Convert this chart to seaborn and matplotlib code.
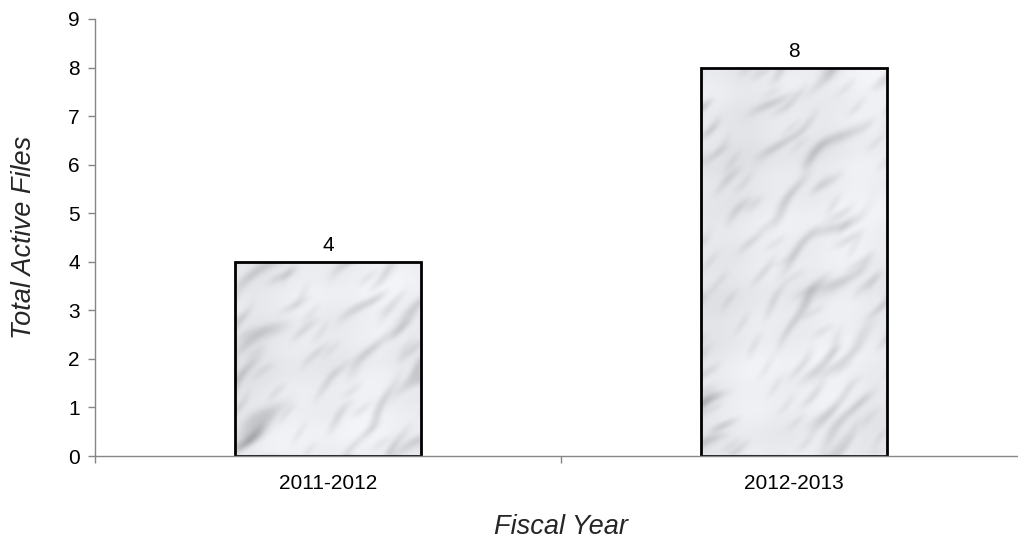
import numpy as np
import pandas as pd
import matplotlib
matplotlib.use("Agg")
import matplotlib.pyplot as plt
import seaborn as sns

# Data
fiscal_years = ["2011-2012", "2012-2013"]
active_files = [4, 8]
y_ticks = list(range(0, 10))

sns.set_style("white")
plt.rcParams["font.family"] = ["Liberation Sans", "DejaVu Sans"]

AXIS_GREY = "#868686"


def marble_texture(h, w, shift):
    """Light marble-like fill: soft diagonal grey streaks over a pale base."""
    yy, xx = np.mgrid[0:h, 0:w].astype(float)
    xx = xx + shift
    yy = yy + shift * 0.6
    u = (xx + yy) / np.sqrt(2)   # across the streaks
    v = (xx - yy) / np.sqrt(2)   # along the streaks
    clouds = (0.5 * np.sin(u * 0.020 + v * 0.011 + 0.3)
              + 0.4 * np.sin(u * 0.035 - v * 0.027 + 1.9)
              + 0.3 * np.sin(u * 0.061 + v * 0.047 + 2.6)
              + 0.2 * np.sin(u * 0.11 - v * 0.083 + 0.9))
    streaks = np.zeros_like(u)
    layers = [(0.16, 0.021, 1.0, 0.4), (0.23, 0.033, 0.8, 1.7),
              (0.11, 0.015, 0.9, 2.8), (0.31, 0.047, 0.6, 4.1)]
    for ka, kv, amp, ph in layers:
        s = np.sin(u * ka + 1.6 * np.sin(v * kv + ph) + 1.3 * clouds)
        env = np.clip(np.sin(v * kv * 1.9 + u * 0.027 + 2 * ph), 0, 1) ** 1.5
        streaks += amp * np.clip(s, 0, 1) ** 6 * env
    val = 0.92 - 0.15 * streaks - 0.045 * (clouds / 1.4)
    # soften
    k = 3
    acc = np.zeros_like(val)
    n = 0
    for dy in range(-k, k + 1):
        for dx in range(-k, k + 1):
            acc += np.roll(np.roll(val, dy, axis=0), dx, axis=1)
            n += 1
    val = np.clip(acc / n, 0, 1)
    rgb = np.stack([val * 0.995, val, np.minimum(val * 1.015, 1.0)], axis=-1)
    return rgb


fig = plt.figure(figsize=(10.18, 5.42), dpi=100)
ax = fig.add_axes([95 / 1018, (542 - 456) / 542, 932 / 1018, 437 / 542])

df = pd.DataFrame({"Fiscal Year": fiscal_years, "Total Active Files": active_files})
sns.barplot(data=df, x="Fiscal Year", y="Total Active Files", order=fiscal_years,
            width=0.4, color="white", edgecolor="black", linewidth=2, ax=ax)

ax.set_xlim(-0.5, 1.5)
ax.set_ylim(0, 9)
ax.set_yticks(y_ticks)

# marble fill for each bar
fig.canvas.draw()
for i, patch in enumerate(ax.patches):
    x0, y0 = patch.get_x(), patch.get_y()
    x1, y1 = x0 + patch.get_width(), y0 + patch.get_height()
    (px0, py0), (px1, py1) = ax.transData.transform([(x0, y0), (x1, y1)])
    tex = marble_texture(max(int(abs(py1 - py0)), 2), max(int(abs(px1 - px0)), 2), 37 + 211 * i)
    im = ax.imshow(tex, extent=(x0, x1, y0, y1), aspect="auto",
                   interpolation="bilinear", zorder=1.5)
    im.set_clip_path(patch)
    patch.set_facecolor("none")
    patch.set_zorder(2)
ax.set_xlim(-0.5, 1.5)
ax.set_ylim(0, 9)
ax.set_aspect("auto")

for container in ax.containers:
    ax.bar_label(container, labels=[str(v) for v in active_files], padding=5,
                 fontsize=15, color="black")

# spines and ticks
sns.despine(ax=ax, top=True, right=True)
for side in ("left", "bottom"):
    ax.spines[side].set_color(AXIS_GREY)
    ax.spines[side].set_linewidth(1.0)

ax.tick_params(axis="y", which="major", direction="out", length=5, width=1,
               color=AXIS_GREY, labelsize=15, labelcolor="black", pad=6, left=True)
ax.tick_params(axis="x", which="major", length=0, labelsize=15, labelcolor="black", pad=13)
ax.set_xticks([-0.5, 0.5, 1.5], minor=True)
ax.tick_params(axis="x", which="minor", direction="out", length=5, width=1,
               color=AXIS_GREY, bottom=True)

ax.set_xlabel("Fiscal Year", fontsize=19.5, fontstyle="italic", va="center")
ax.set_ylabel("Total Active Files", fontsize=19.5, fontstyle="italic", va="center")
ax.xaxis.set_label_coords(0.5, (456 - 527) / 437)
ax.yaxis.set_label_coords((24 - 95) / 932, 0.5)

ax.grid(False)
fig.savefig("out.png", dpi=100)
